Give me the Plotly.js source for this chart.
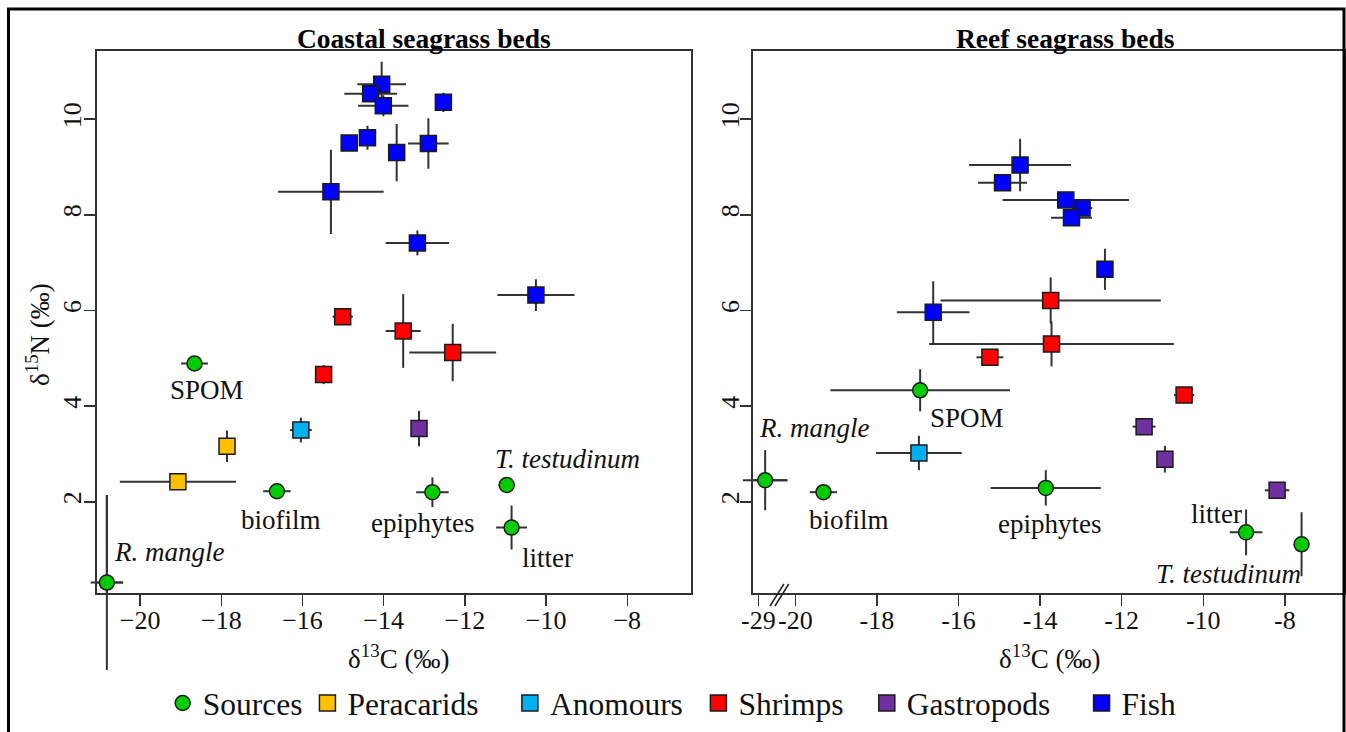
<!DOCTYPE html>
<html><head><meta charset="utf-8">
<script src="https://cdn.plot.ly/plotly-3.0.1.min.js"></script>
<style>html,body{margin:0;padding:0;background:#fff;}#chart{width:1346px;height:732px;}</style>
</head><body><div id="chart"></div>
<script>
// ---------------- DATA ----------------
const groups = ['Sources', 'Peracarids', 'Anomours', 'Shrimps', 'Gastropods', 'Fish'];

// Coastal seagrass beds
const coastalSourceNames = ['SPOM', 'biofilm', 'R. mangle', 'epiphytes', 'T. testudinum', 'litter'];
const coastalSourcesX = [-18.66, -16.63, -20.82, -12.80, -10.97, -10.85];
const coastalSourcesY = [4.89, 2.22, 0.31, 2.20, 2.35, 1.46];
const coastalSourcesXerr = [0.33, 0.34, 0.40, 0.40, 0.20, 0.38];
const coastalSourcesYerr = [0.05, 0.05, 1.83, 0.31, 0.15, 0.46];

const coastalPeracaridsX = [-17.86, -19.07];
const coastalPeracaridsY = [3.16, 2.42];
const coastalPeracaridsXerr = [0.08, 1.43];
const coastalPeracaridsYerr = [0.33, 0.08];

const coastalAnomoursX = [-16.04];
const coastalAnomoursY = [3.50];
const coastalAnomoursXerr = [0.27];
const coastalAnomoursYerr = [0.26];

const coastalShrimpsX = [-15.01, -13.52, -12.30, -15.48];
const coastalShrimpsY = [5.87, 5.57, 5.12, 4.66];
const coastalShrimpsXerr = [0.25, 0.43, 1.07, 0.08];
const coastalShrimpsYerr = [0.08, 0.77, 0.60, 0.20];

const coastalGastropodsX = [-13.13];
const coastalGastropodsY = [3.53];
const coastalGastropodsXerr = [0.08];
const coastalGastropodsYerr = [0.37];

const coastalFishX = [-14.05, -14.32, -14.01, -12.53, -14.85, -14.40, -13.68, -12.90, -15.30, -13.17, -10.25];
const coastalFishY = [10.73, 10.53, 10.28, 10.35, 9.50, 9.61, 9.30, 9.49, 8.48, 7.41, 6.32];
const coastalFishXerr = [0.60, 0.65, 0.62, 0.05, 0.15, 0.10, 0.10, 0.50, 1.30, 0.78, 0.95];
const coastalFishYerr = [0.47, 0.10, 0.22, 0.20, 0.15, 0.25, 0.60, 0.53, 0.88, 0.26, 0.33];

// Reef seagrass beds
const reefSourceNames = ['SPOM', 'biofilm', 'R. mangle', 'epiphytes', 'litter', 'T. testudinum'];
const reefSourcesX = [-16.94, -19.31, -28.6, -13.86, -8.95, -7.59];
const reefSourcesY = [4.33, 2.20, 2.45, 2.29, 1.36, 1.11];
const reefSourcesXerr = [2.20, 1.27, 1.30, 1.35, 0.40, 0.12];
const reefSourcesYerr = [0.44, 0.05, 0.63, 0.37, 0.48, 0.67];

const reefAnomoursX = [-16.97];
const reefAnomoursY = [3.02];
const reefAnomoursXerr = [1.05];
const reefAnomoursYerr = [0.36];

const reefShrimpsX = [-13.74, -13.72, -15.23, -10.47];
const reefShrimpsY = [6.21, 5.30, 5.02, 4.23];
const reefShrimpsXerr = [2.70, 3.00, 0.33, 0.25];
const reefShrimpsYerr = [0.48, 0.47, 0.06, 0.05];

const reefGastropodsX = [-11.45, -10.94, -8.19];
const reefGastropodsY = [3.57, 2.89, 2.24];
const reefGastropodsXerr = [0.28, 0.08, 0.30];
const reefGastropodsYerr = [0.05, 0.28, 0.05];

const reefFishX = [-14.49, -14.92, -13.37, -12.97, -13.23, -12.41, -16.62];
const reefFishY = [9.04, 8.67, 8.31, 8.14, 7.94, 6.86, 5.96];
const reefFishXerr = [1.25, 0.60, 1.55, 0.25, 0.50, 0.05, 0.89];
const reefFishYerr = [0.55, 0.15, 0.10, 0.10, 0.05, 0.43, 0.65];

const xTickVals = [-20, -18, -16, -14, -12, -10, -8];
const reefBreakTickLabel = -29;
const yTickVals = [2, 4, 6, 8, 10];

// ---------------- STYLE ----------------
const W = 1346, H = 732;
const FONT = 'Liberation Serif, Times New Roman, serif';
const colors = {Sources:'#00cc00', Peracarids:'#ffc000', Anomours:'#00b0f0', Shrimps:'#ff0000', Gastropods:'#7030a0', Fish:'#0000ff'};
const symbols = {Sources:'circle', Peracarids:'square', Anomours:'square', Shrimps:'square', Gastropods:'square', Fish:'square'};
const sizes = {Sources:15, Peracarids:16, Anomours:16, Shrimps:16, Gastropods:16, Fish:16};
// extra spacing after each legend entry
const legendPad = {Sources:'', Peracarids:'\u00a0\u00a0\u00a0\u200a', Anomours:'\u00a0\u200a', Shrimps:'\u00a0\u00a0\u200a', Gastropods:'\u00a0\u00a0\u00a0\u200a', Fish:''};
const ERR_COLOR = '#333', ERR_W = 2;

const X1_RANGE = [-21.07, -6.44], X2_RANGE = [-21.03, -6.55], Y_RANGE = [0.086, 11.43];

// axis break on reef panel: values below -20.5 are compressed next to the -29 tick
const BREAK_POS = -20.907, BREAK_SCALE = 0.42;
function brk(x){ return x < -20.5 ? BREAK_POS + (x - reefBreakTickLabel) * BREAK_SCALE : x; }

const extraShapes = [];
const frac = (v, r) => (v - r[0]) / (r[1] - r[0]);

function mk(panel, g, xs, ys, xe, ye, showlegend){
  const reef = panel === 'reef';
  const dx = reef ? xs.map(brk) : xs;
  const dxe = reef ? xs.map((x,i)=> (brk(x + xe[i]) - brk(x - xe[i])) / 2) : xe;
  const xr = reef ? X2_RANGE : X1_RANGE;
  const xa = reef ? 'x2' : 'x', ya = reef ? 'y2' : 'y';
  // error bars that run past the frame are continued outside the clip region
  dx.forEach((x,i)=>{
    const y = ys[i];
    if (y - ye[i] < Y_RANGE[0] || y + ye[i] > Y_RANGE[1]) {
      extraShapes.push({type:'line', xref:xa + ' domain', yref:ya + ' domain', layer:'below',
        x0:frac(x, xr), x1:frac(x, xr), y0:frac(y - ye[i], Y_RANGE), y1:frac(y + ye[i], Y_RANGE),
        line:{color:ERR_COLOR, width:ERR_W}});
    }
    if (x - dxe[i] < xr[0] || x + dxe[i] > xr[1]) {
      extraShapes.push({type:'line', xref:xa + ' domain', yref:ya + ' domain', layer:'below',
        x0:frac(x - dxe[i], xr), x1:frac(x + dxe[i], xr), y0:frac(y, Y_RANGE), y1:frac(y, Y_RANGE),
        line:{color:ERR_COLOR, width:ERR_W}});
    }
  });
  return {
    type:'scatter', mode:'markers', x:dx, y:ys,
    xaxis: xa, yaxis: ya,
    name: g + legendPad[g], legendgroup: g, showlegend: showlegend,
    cliponaxis:false, hoverinfo:'skip',
    marker:{symbol:symbols[g], size:sizes[g], color:colors[g], line:{color:'#1a1a1a', width:1.5}},
    error_x:{type:'data', array:dxe, symmetric:true, color:ERR_COLOR, thickness:ERR_W, width:0},
    error_y:{type:'data', array:ye, symmetric:true, color:ERR_COLOR, thickness:ERR_W, width:0}
  };
}

const data = [
  mk('coastal','Sources', coastalSourcesX, coastalSourcesY, coastalSourcesXerr, coastalSourcesYerr, true),
  mk('coastal','Peracarids', coastalPeracaridsX, coastalPeracaridsY, coastalPeracaridsXerr, coastalPeracaridsYerr, true),
  mk('coastal','Anomours', coastalAnomoursX, coastalAnomoursY, coastalAnomoursXerr, coastalAnomoursYerr, true),
  mk('coastal','Shrimps', coastalShrimpsX, coastalShrimpsY, coastalShrimpsXerr, coastalShrimpsYerr, true),
  mk('coastal','Gastropods', coastalGastropodsX, coastalGastropodsY, coastalGastropodsXerr, coastalGastropodsYerr, true),
  mk('coastal','Fish', coastalFishX, coastalFishY, coastalFishXerr, coastalFishYerr, true),
  mk('reef','Sources', reefSourcesX, reefSourcesY, reefSourcesXerr, reefSourcesYerr, false),
  mk('reef','Anomours', reefAnomoursX, reefAnomoursY, reefAnomoursXerr, reefAnomoursYerr, false),
  mk('reef','Shrimps', reefShrimpsX, reefShrimpsY, reefShrimpsXerr, reefShrimpsYerr, false),
  mk('reef','Gastropods', reefGastropodsX, reefGastropodsY, reefGastropodsXerr, reefGastropodsYerr, false),
  mk('reef','Fish', reefFishX, reefFishY, reefFishXerr, reefFishYerr, false)
];

// label placement offsets (data units) relative to each source point
const coastalLabelOffsets = {'SPOM':[0.30,-0.56], 'biofilm':[0.10,-0.60], 'R. mangle':[1.54,0.65], 'epiphytes':[-0.24,-0.65], 'T. testudinum':[1.50,0.54], 'litter':[0.89,-0.63]};
const reefLabelOffsets = {'SPOM':[1.14,-0.57], 'biofilm':[0.63,-0.58], 'R. mangle':[1.20,1.10], 'epiphytes':[0.09,-0.76], 'litter':[-0.72,0.38], 'T. testudinum':[-1.80,-0.62]};
const italic = n => (n === 'R. mangle' || n === 'T. testudinum') ? '<i>' + n + '</i>' : n;

const annotations = [];
coastalSourceNames.forEach((n,i)=>{
  const o = coastalLabelOffsets[n];
  annotations.push({xref:'x', yref:'y', x:coastalSourcesX[i]+o[0], y:coastalSourcesY[i]+o[1], text:italic(n), showarrow:false, xanchor:'center', yanchor:'middle', font:{family:FONT, size:27, color:'#111'}});
});
reefSourceNames.forEach((n,i)=>{
  const o = reefLabelOffsets[n];
  annotations.push({xref:'x2', yref:'y2', x:brk(reefSourcesX[i])+o[0], y:reefSourcesY[i]+o[1], text:italic(n), showarrow:false, xanchor:'center', yanchor:'middle', font:{family:FONT, size:27, color:'#111'}});
});
// panel titles
annotations.push({xref:'paper', yref:'paper', x:424/W, y:1-38.2/H, text:'<b>Coastal seagrass beds</b>', showarrow:false, xanchor:'center', yanchor:'middle', font:{family:FONT, size:27.5, color:'#000'}});
annotations.push({xref:'paper', yref:'paper', x:1065/W, y:1-38.2/H, text:'<b>Reef seagrass beds</b>', showarrow:false, xanchor:'center', yanchor:'middle', font:{family:FONT, size:27.5, color:'#000'}});
// axis titles
annotations.push({xref:'paper', yref:'paper', x:398.5/W, y:1-657/H, text:'δ<sup>13</sup>C (‰)', showarrow:false, xanchor:'center', yanchor:'middle', font:{family:FONT, size:27, color:'#111'}});
annotations.push({xref:'paper', yref:'paper', x:1049.6/W, y:1-657/H, text:'δ<sup>13</sup>C (‰)', showarrow:false, xanchor:'center', yanchor:'middle', font:{family:FONT, size:27, color:'#111'}});
annotations.push({xref:'paper', yref:'paper', x:38/W, y:1-335/H, text:'δ<sup>15</sup>N (‰)', textangle:-90, showarrow:false, xanchor:'center', yanchor:'middle', font:{family:FONT, size:27, color:'#111'}});

const axisCommon = {
  showline:true, mirror:true, linecolor:'#333', linewidth:2, showgrid:false, zeroline:false,
  ticks:'outside', ticklen:11, tickwidth:1.5, tickcolor:'#333',
  tickfont:{family:FONT, size:26, color:'#111'}, automargin:false, fixedrange:true
};
const yDomain = [1-593.3/H, 1-50.7/H];

const layout = {
  width:W, height:H, margin:{l:0, r:0, t:0, b:0},
  paper_bgcolor:'#fff', plot_bgcolor:'#fff', showlegend:true,
  xaxis: Object.assign({}, axisCommon, {domain:[96.7/W, 690.6/W], range:X1_RANGE, tickvals:xTickVals, anchor:'y', ticklabelstandoff:-9}),
  yaxis: Object.assign({}, axisCommon, {domain:yDomain, range:Y_RANGE, tickvals:yTickVals, tickangle:-90, anchor:'x', ticklabelstandoff:-8}),
  xaxis2: Object.assign({}, axisCommon, {domain:[753.3/W, 1344/W], range:X2_RANGE,
           tickvals:[brk(reefBreakTickLabel)].concat(xTickVals), ticktext:[String(reefBreakTickLabel)].concat(xTickVals.map(String)), anchor:'y2', ticklabelstandoff:-9}),
  yaxis2: Object.assign({}, axisCommon, {domain:yDomain, range:Y_RANGE, tickvals:yTickVals, tickangle:-90, anchor:'x2', ticklabelstandoff:-9}),
  legend:{orientation:'h', x:0.4994, xanchor:'center', y:1-703/H, yanchor:'middle',
          font:{family:FONT, size:31.5, color:'#111'}, bgcolor:'rgba(0,0,0,0)', traceorder:'normal'},
  annotations: annotations,
  shapes: [
    // outer frame
    {type:'rect', xref:'paper', yref:'paper', x0:8.5/W, x1:1344/W, y0:-0.1, y1:1-9/H, line:{color:'#000', width:3}, fillcolor:'rgba(0,0,0,0)', layer:'above'},
    // axis break marks
    {type:'line', xref:'x2', yref:'paper', x0:-20.62, x1:-20.28, y0:1-606/H, y1:1-584/H, line:{color:'#222', width:1.5}},
    {type:'line', xref:'x2', yref:'paper', x0:-20.50, x1:-20.16, y0:1-606/H, y1:1-584/H, line:{color:'#222', width:1.5}}
  ].concat(extraShapes)
};

Plotly.newPlot('chart', data, layout, {displayModeBar:false, staticPlot:true});
</script>
</body></html>
